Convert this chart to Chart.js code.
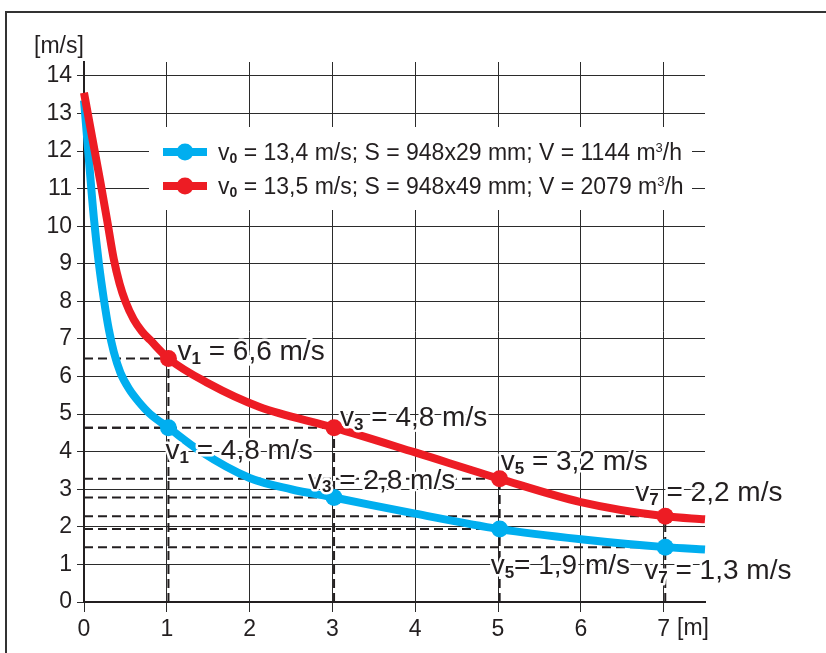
<!DOCTYPE html>
<html lang="en">
<head>
<meta charset="UTF-8" />
<title>Velocity vs distance</title>
<script src="https://cdn.jsdelivr.net/npm/chart.js"></script>
<style>
  html, body { margin: 0; padding: 0; background: #fff; }
  canvas { display: block; }
</style>
</head>
<body>
<canvas id="chart" width="826" height="653"></canvas>
<script>
// distance [m] -> velocity [m/s]
const blueX = [0, 0.06, 0.12, 0.18, 0.24, 0.3, 0.36, 0.44, 0.55, 0.66, 0.8, 1.02, 1.4, 2, 2.5, 3.02, 4, 5.02, 6, 7.02, 7.5];
const blueY = [13.35, 11.75, 10.2, 9.0, 8.05, 7.25, 6.65, 6.1, 5.65, 5.33, 5.0, 4.64, 4.02, 3.3, 3.0, 2.78, 2.35, 1.94, 1.67, 1.46, 1.4];
const redX = [0, 0.1, 0.2, 0.28, 0.36, 0.43, 0.5, 0.6, 0.7, 0.8, 1.02, 1.5, 2.12, 3.02, 4, 5.02, 6, 7.02, 7.5];
const redY = [13.55, 12.35, 11.15, 10.15, 9.12, 8.47, 8.0, 7.52, 7.2, 6.97, 6.48, 5.82, 5.19, 4.64, 3.98, 3.28, 2.66, 2.28, 2.2];

// measuring points
const markX = [1.02, 3.02, 5.02, 7.02];
const markIdx = ['1', '3', '5', '7'];
const blueMark = [4.64, 2.78, 1.94, 1.46];
const redMark = [6.48, 4.64, 3.28, 2.28];
const blueLabels = ['4,8', '2,8', '1,9', '1,3'];
const redLabels = ['6,6', '4,8', '3,2', '2,2'];
const blueEq = [' = ', ' = ', '= ', ' = '];

// legend
const seriesV0 = ['13,4', '13,5'];
const seriesS = ['948x29', '948x49'];
const seriesFlow = ['1144', '2079'];

const xTicks = [0, 1, 2, 3, 4, 5, 6, 7];
const yTicks = [0, 1, 2, 3, 4, 5, 6, 7, 8, 9, 10, 11, 12, 13, 14];

const BLUE = '#00aeef';
const RED = '#ed1c24';
const INK = '#231f20';
const FONT = '"Liberation Sans", Arial, sans-serif';

const pts = (xs, ys) => xs.map((x, i) => ({ x, y: ys[i] }));

// dashed guide lines from the axes to every measuring point
const guides = [];
markX.forEach((x, i) => {
  guides.push([{ x: 0, y: blueMark[i] }, { x, y: blueMark[i] }]);
  guides.push([{ x: 0, y: redMark[i] }, { x, y: redMark[i] }]);
  guides.push([{ x, y: 0 }, { x, y: redMark[i] }]);
});

const datasets = guides.map(g => ({
  data: g, borderColor: INK, borderWidth: 2, borderDash: [9, 5],
  pointRadius: 0, order: 5, clip: false
}));
datasets.push(
  { data: pts(blueX, blueY), borderColor: BLUE, borderWidth: 8, pointRadius: 0,
    cubicInterpolationMode: 'monotone', order: 3, clip: false },
  { data: pts(redX, redY), borderColor: RED, borderWidth: 8, pointRadius: 0,
    cubicInterpolationMode: 'monotone', order: 2, clip: false },
  { data: pts(markX, blueMark), showLine: false, pointRadius: 8.5, pointBackgroundColor: BLUE,
    pointBorderWidth: 0, order: 1, clip: false },
  { data: pts(markX, redMark), showLine: false, pointRadius: 8.5, pointBackgroundColor: RED,
    pointBorderWidth: 0, order: 0, clip: false }
);

// text with subscript / superscript pieces, optional white halo
function drawRich(ctx, parts, x, y, size, halo) {
  const pass = (stroke) => {
    let cx = x;
    parts.forEach(([t, kind]) => {
      let fs = size, dy = 0, w = '';
      if (kind === 'sub') { fs = Math.round(size * 0.62); dy = size * 0.14; w = 'bold '; }
      if (kind === 'sup') { fs = Math.round(size * 0.55); dy = -size * 0.36; }
      ctx.font = w + fs + 'px ' + FONT;
      if (stroke) ctx.strokeText(t, cx, y + dy); else ctx.fillText(t, cx, y + dy);
      cx += ctx.measureText(t).width;
    });
  };
  ctx.textAlign = 'left';
  ctx.textBaseline = 'alphabetic';
  if (halo) {
    ctx.strokeStyle = '#fff';
    ctx.lineWidth = 5;
    ctx.lineJoin = 'round';
    pass(true);
  }
  ctx.fillStyle = INK;
  pass(false);
}

const decor = {
  id: 'decor',
  beforeDraw(chart) {
    const ctx = chart.ctx;
    ctx.save();
    ctx.strokeStyle = '#333';
    ctx.lineWidth = 2;
    ctx.beginPath();
    ctx.moveTo(6, 660);
    ctx.lineTo(6, 12);
    ctx.lineTo(830, 12);
    ctx.stroke();
    ctx.restore();
  },
  afterDraw(chart) {
    const ctx = chart.ctx;
    const xs = chart.scales.x, ys = chart.scales.y;
    ctx.save();

    // axis units
    ctx.fillStyle = INK;
    ctx.font = '23px ' + FONT;
    ctx.textAlign = 'left';
    ctx.fillText('[m/s]', 34, 53);
    ctx.fillText('[m]', 677, 635);

    // legend box
    ctx.fillStyle = '#fff';
    ctx.fillRect(149, 127, 543, 83);
    [BLUE, RED].forEach((c, i) => {
      const y = 152 + i * 34;
      ctx.strokeStyle = c;
      ctx.lineWidth = 8;
      ctx.beginPath();
      ctx.moveTo(163, y);
      ctx.lineTo(207, y);
      ctx.stroke();
      ctx.fillStyle = c;
      ctx.beginPath();
      ctx.arc(185, y, 8.5, 0, Math.PI * 2);
      ctx.fill();
      drawRich(ctx, [
        ['v', ''], ['0', 'sub'],
        [' = ' + seriesV0[i] + ' m/s; S = ' + seriesS[i] + ' mm; V = ' + seriesFlow[i] + ' m', ''],
        ['3', 'sup'], ['/h', '']
      ], 218, y + 8, 23, false);
    });

    // point labels
    const redOff = [[9, 2], [6, -2], [1, -9], [-30, -15]];
    const blueOff = [[-3, 31], [-26, -9], [-9, 45], [-21, 32]];
    markX.forEach((x, i) => {
      const px = xs.getPixelForValue(x);
      let py = ys.getPixelForValue(redMark[i]);
      drawRich(ctx, [['v', ''], [markIdx[i], 'sub'], [' = ' + redLabels[i] + ' m/s', '']],
        px + redOff[i][0], py + redOff[i][1], 28, true);
      py = ys.getPixelForValue(blueMark[i]);
      drawRich(ctx, [['v', ''], [markIdx[i], 'sub'], [blueEq[i] + blueLabels[i] + ' m/s', '']],
        px + blueOff[i][0], py + blueOff[i][1], 28, true);
    });
    ctx.restore();
  }
};

new Chart(document.getElementById('chart'), {
  type: 'line',
  data: { datasets },
  options: {
    responsive: false,
    devicePixelRatio: 1,
    animation: false,
    events: [],
    layout: { padding: { left: 0, right: 121, top: 62, bottom: 0 } },
    plugins: { legend: { display: false }, tooltip: { enabled: false } },
    scales: {
      x: {
        type: 'linear', min: 0, max: 7.5,
        afterBuildTicks: s => { s.ticks = xTicks.map(v => ({ value: v })); },
        afterFit: s => { s.height = 51; },
        grid: { color: '#2b2b2b', lineWidth: 1, tickLength: 10 },
        border: { display: true, color: INK, width: 2 },
        ticks: { color: INK, font: { size: 23, family: FONT }, padding: 4,
                 maxRotation: 0, autoSkip: false }
      },
      y: {
        type: 'linear', min: 0, max: 14.37,
        afterBuildTicks: s => { s.ticks = yTicks.map(v => ({ value: v })); },
        afterFit: s => { s.width = 84; },
        grid: { color: '#2b2b2b', lineWidth: 1, tickLength: 7 },
        border: { display: true, color: INK, width: 2 },
        ticks: { color: INK, font: { size: 23, family: FONT }, padding: 5, autoSkip: false }
      }
    }
  },
  plugins: [decor]
});
</script>
</body>
</html>
